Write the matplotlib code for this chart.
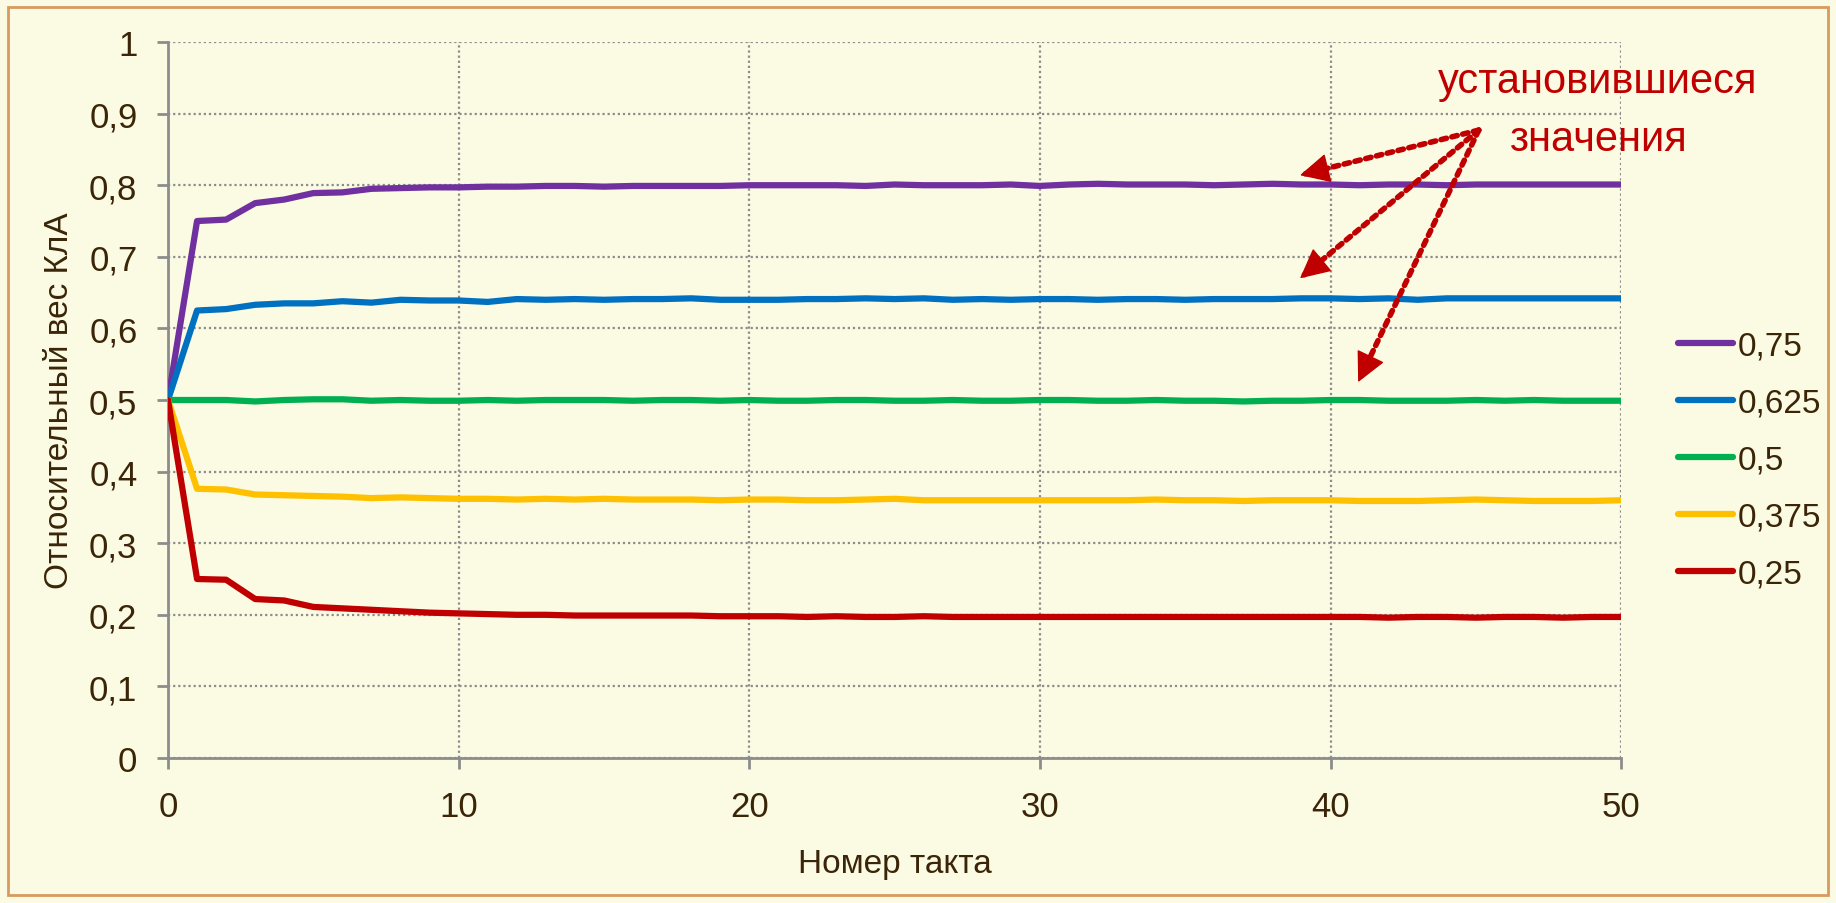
import matplotlib.pyplot as plt
from matplotlib.patches import Rectangle

plt.rcParams['font.family'] = ['Liberation Sans', 'DejaVu Sans']

# Номера тактов
takt = list(range(51))

# Относительный вес КлА для разных начальных значений
w_075 = [0.500, 0.750, 0.752, 0.775, 0.780, 0.789, 0.790, 0.795, 0.796, 0.797,
         0.797, 0.798, 0.798, 0.799, 0.799, 0.798, 0.799, 0.799, 0.799, 0.799,
         0.800, 0.800, 0.800, 0.800, 0.799, 0.801, 0.800, 0.800, 0.800, 0.801,
         0.799, 0.801, 0.802, 0.801, 0.801, 0.801, 0.800, 0.801, 0.802, 0.801,
         0.801, 0.800, 0.801, 0.801, 0.800, 0.801, 0.801, 0.801, 0.801, 0.801,
         0.801]
w_0625 = [0.500, 0.625, 0.627, 0.633, 0.635, 0.635, 0.638, 0.636, 0.640, 0.639,
          0.639, 0.637, 0.641, 0.640, 0.641, 0.640, 0.641, 0.641, 0.642, 0.640,
          0.640, 0.640, 0.641, 0.641, 0.642, 0.641, 0.642, 0.640, 0.641, 0.640,
          0.641, 0.641, 0.640, 0.641, 0.641, 0.640, 0.641, 0.641, 0.641, 0.642,
          0.642, 0.641, 0.642, 0.640, 0.642, 0.642, 0.642, 0.642, 0.642, 0.642,
          0.642]
w_05 = [0.500, 0.500, 0.500, 0.498, 0.500, 0.501, 0.501, 0.499, 0.500, 0.499,
        0.499, 0.500, 0.499, 0.500, 0.500, 0.500, 0.499, 0.500, 0.500, 0.499,
        0.500, 0.499, 0.499, 0.500, 0.500, 0.499, 0.499, 0.500, 0.499, 0.499,
        0.500, 0.500, 0.499, 0.499, 0.500, 0.499, 0.499, 0.498, 0.499, 0.499,
        0.500, 0.500, 0.499, 0.499, 0.499, 0.500, 0.499, 0.500, 0.499, 0.499,
        0.499]
w_0375 = [0.500, 0.376, 0.375, 0.368, 0.367, 0.366, 0.365, 0.363, 0.364, 0.363,
          0.362, 0.362, 0.361, 0.362, 0.361, 0.362, 0.361, 0.361, 0.361, 0.360,
          0.361, 0.361, 0.360, 0.360, 0.361, 0.362, 0.360, 0.360, 0.360, 0.360,
          0.360, 0.360, 0.360, 0.360, 0.361, 0.360, 0.360, 0.359, 0.360, 0.360,
          0.360, 0.359, 0.359, 0.359, 0.360, 0.361, 0.360, 0.359, 0.359, 0.359,
          0.360]
w_025 = [0.500, 0.250, 0.249, 0.222, 0.220, 0.211, 0.209, 0.207, 0.205, 0.203,
         0.202, 0.201, 0.200, 0.200, 0.199, 0.199, 0.199, 0.199, 0.199, 0.198,
         0.198, 0.198, 0.197, 0.198, 0.197, 0.197, 0.198, 0.197, 0.197, 0.197,
         0.197, 0.197, 0.197, 0.197, 0.197, 0.197, 0.197, 0.197, 0.197, 0.197,
         0.197, 0.197, 0.196, 0.197, 0.197, 0.196, 0.197, 0.197, 0.196, 0.197,
         0.197]

series = [w_075, w_0625, w_05, w_0375, w_025]
labels = ['0,75', '0,625', '0,5', '0,375', '0,25']
colors = ['#7030A0', '#0070C0', '#00B050', '#FFC000', '#C00000']

yticks = [i / 10 for i in range(11)]
ytick_labels = ['0', '0,1', '0,2', '0,3', '0,4', '0,5', '0,6', '0,7', '0,8', '0,9', '1']
xticks = [0, 10, 20, 30, 40, 50]

bg = '#FBFBE4'
txt = '#3B2508'
gray = '#8C8C8C'
red = '#C00000'

fig = plt.figure(figsize=(18.36, 9.04), dpi=100, facecolor=bg)
ax = fig.add_axes([0.0915, 0.1604, 0.7915, 0.7920])
ax.set_facecolor(bg)

for ys, lab, c in zip(series, labels, colors):
    ax.plot(takt, ys, color=c, lw=4.5, label=lab, solid_capstyle='round', zorder=3)

ax.set_xlim(0, 50)
ax.set_ylim(0, 1)
ax.set_xticks(xticks)
ax.set_xticklabels([str(t) for t in xticks])
ax.set_yticks(yticks)
ax.set_yticklabels(ytick_labels)

ax.grid(True, color=gray, linestyle=(0, (1, 1.3)), lw=1.6)
for s in ['top', 'right']:
    ax.spines[s].set_visible(False)
for s in ['left', 'bottom']:
    ax.spines[s].set_color(gray)
    ax.spines[s].set_linewidth(2)
ax.tick_params(axis='both', colors=gray, width=2, length=8, labelsize=25,
               labelcolor=txt, direction='out')
ax.tick_params(axis='x', pad=15)
ax.tick_params(axis='y', pad=14)

ax.set_xlabel('Номер такта', fontsize=24, color=txt, labelpad=18)
ax.set_ylabel('Относительный вес КлА', fontsize=24, color=txt, labelpad=10)

# подпись и стрелки к установившимся значениям
ax.text(49.2, 0.945, 'установившиеся', fontsize=30, color=red,
        ha='center', va='center', clip_on=False)
ax.text(49.2, 0.865, 'значения', fontsize=30, color=red,
        ha='center', va='center', clip_on=False)
x0, y0 = 45.1, 0.877
for ex, ey in [(38.95, 0.814), (38.95, 0.670), (40.95, 0.525)]:
    # пунктирный стержень
    ax.annotate('', xy=(ex, ey), xytext=(x0, y0),
                arrowprops=dict(arrowstyle='-', linestyle=(0, (1, 1)),
                                lw=4, color=red, shrinkA=0, shrinkB=4),
                zorder=5)
    # сплошной наконечник
    hx = ex + 0.07 * (x0 - ex)
    hy = ey + 0.07 * (y0 - ey)
    ax.annotate('', xy=(ex, ey), xytext=(hx, hy),
                arrowprops=dict(arrowstyle='-|>,head_length=0.8,head_width=0.4',
                                lw=1, color=red, mutation_scale=24,
                                shrinkA=0, shrinkB=0),
                zorder=6)

fig.legend(loc='center left', bbox_to_anchor=(0.905, 0.49), frameon=False,
           fontsize=24, labelcolor=txt, handlelength=1.65, handletextpad=0.15,
           labelspacing=0.78, borderpad=0)

fig.patches.append(Rectangle((8 / 1836, 8 / 904), 1 - 16 / 1836, 1 - 16 / 904,
                             transform=fig.transFigure, fill=False,
                             edgecolor='#D89A5F', lw=2))

fig.savefig('out.png', dpi=100, facecolor=bg)
